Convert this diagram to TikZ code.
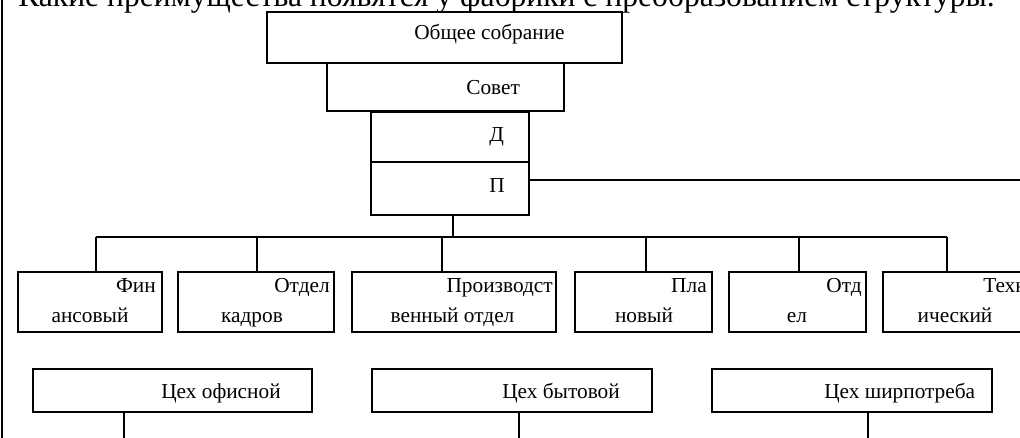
\documentclass[tikz,border=0pt]{standalone}
\usepackage{fontspec}
\setmainfont{Liberation Serif}
\newcommand\boxfont{\fontsize{16}{19}\selectfont}
\newcommand\titlefont{\fontsize{23.7}{28}\selectfont}
\tikzset{
  box/.style={draw, line width=1.5pt, inner sep=0pt},
  conn/.style={line width=1.2pt},
  lbl/.style={inner sep=0pt, font=\boxfont},
}
\newcommand\mkbox[5]{\node[box, minimum width={(#4-#2)*0.75pt}, minimum height={(#5-#3)*0.75pt}] (#1) at ({(#2+#4)/2},{(#3+#5)/2}) {};}
\begin{document}
\begin{tikzpicture}[x=0.75pt,y=-0.75pt]
\useasboundingbox (0,0) rectangle (1020,438);
\fill[white] (0,0) rectangle (1020,438);
% left border
\coordinate (bt) at (2,0);
\coordinate (bb) at (2,438);
\draw[line width=1.5pt] (bt) -- (bb);
% top chain
\mkbox{gen}{267}{12}{622}{63}
\mkbox{sov}{327}{63}{564}{111}
\mkbox{dir}{371}{112}{529}{162}
\mkbox{pre}{371}{162}{529}{215}
\node[lbl, anchor=base west] (tgen) at (414,40) {Общее собрание};
\node[lbl, anchor=base west] (tsov) at (466,95) {Совет};
\node[lbl, anchor=base west] (tdir) at (489,142) {Д};
\node[lbl, anchor=base west] (tpre) at (489,193) {П};
% title
\node[inner sep=0pt, anchor=base west, font=\titlefont] (title) at (18,7) {Какие преимущества появятся у фабрики с преобразованием структуры.};
% right line from П
\coordinate (rend) at (1020,180);
\draw[conn] (pre.east |- rend) -- (rend);
% departments
\mkbox{d1}{18}{272}{162}{332}
\mkbox{d2}{178}{272}{334}{332}
\mkbox{d3}{352}{272}{556}{332}
\mkbox{d4}{575}{272}{712}{332}
\mkbox{d5}{729}{272}{866}{332}
\mkbox{d6}{883}{272}{1030}{332}
\node[lbl, anchor=base east] (a1) at (156,292) {Фин};
\node[lbl, anchor=base] (b1) at (90,322) {ансовый};
\node[lbl, anchor=base east] (a2) at (330,292) {Отдел};
\node[lbl, anchor=base] (b2) at (252,322) {кадров};
\node[lbl, anchor=base east] (a3) at (553,292) {Производст};
\node[lbl, anchor=base] (b3) at (452.5,322) {венный отдел};
\node[lbl, anchor=base east] (a4) at (707,292) {Пла};
\node[lbl, anchor=base] (b4) at (644,322) {новый};
\node[lbl, anchor=base east] (a5) at (862,292) {Отд};
\node[lbl, anchor=base] (b5) at (797,322) {ел};
\node[lbl, anchor=base west] (a6) at (983,292) {Техн};
\node[lbl, anchor=base] (b6) at (955,322) {ический};
% bus
\coordinate (bus) at (453,237);
\draw[conn] (pre.south -| bus) -- (bus);
\coordinate (t1) at (96,237);
\coordinate (t2) at (257,237);
\coordinate (t3) at (442,237);
\coordinate (t4) at (646,237);
\coordinate (t5) at (799,237);
\coordinate (t6) at (947,237);
\draw[conn] (t1) -- (t6);
\draw[conn] (t1) -- (t1 |- d1.north);
\draw[conn] (t2) -- (t2 |- d2.north);
\draw[conn] (t3) -- (t3 |- d3.north);
\draw[conn] (t4) -- (t4 |- d4.north);
\draw[conn] (t5) -- (t5 |- d5.north);
\draw[conn] (t6) -- (t6 |- d6.north);
% shops
\mkbox{s1}{33}{369}{312}{412}
\mkbox{s2}{372}{369}{652}{412}
\mkbox{s3}{712}{369}{992}{412}
\node[lbl, anchor=base west] (u1) at (161,398) {Цех офисной};
\node[lbl, anchor=base west] (u2) at (502,398) {Цех бытовой};
\node[lbl, anchor=base west] (u3) at (824,398) {Цех ширпотреба};
\coordinate (e1) at (124,438);
\coordinate (e2) at (519,438);
\coordinate (e3) at (868,438);
\draw[conn] (s1.south -| e1) -- (e1);
\draw[conn] (s2.south -| e2) -- (e2);
\draw[conn] (s3.south -| e3) -- (e3);
\end{tikzpicture}
\end{document}
